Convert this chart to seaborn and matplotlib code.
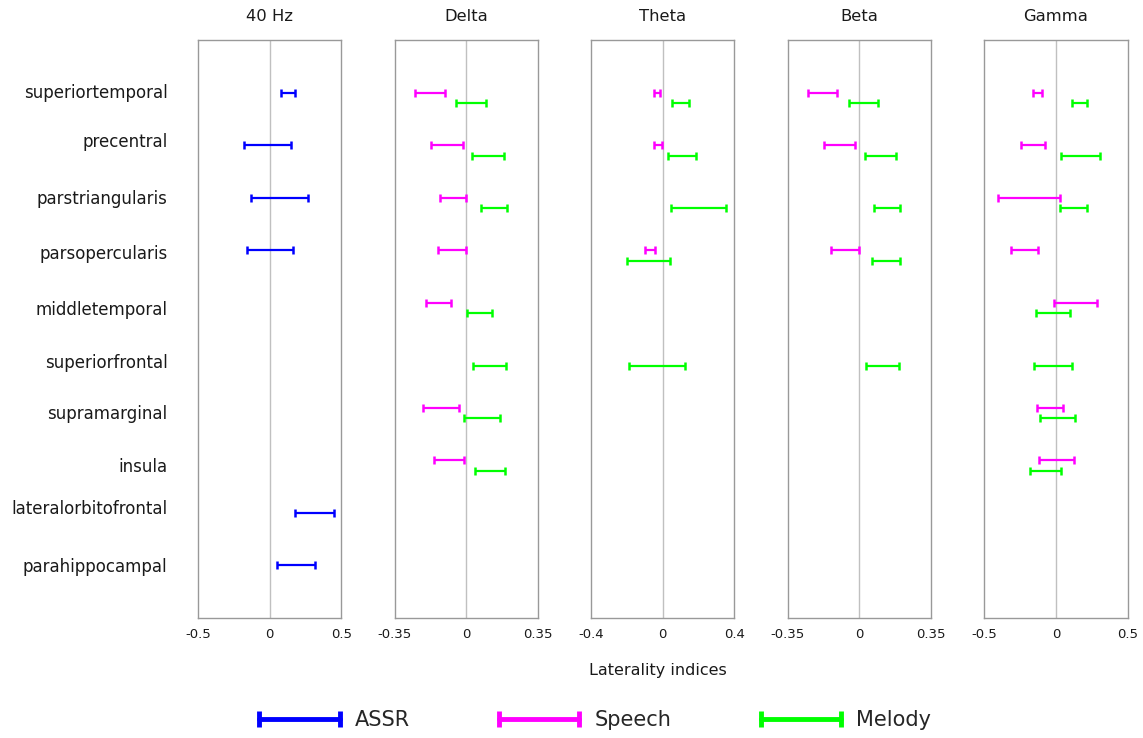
import numpy as np
import pandas as pd
import matplotlib
matplotlib.use("Agg")
import matplotlib.pyplot as plt
from matplotlib.lines import Line2D
import seaborn as sns

# Brain regions, top to bottom
regions = ["superiortemporal", "precentral", "parstriangularis", "parsopercularis",
           "middletemporal", "superiorfrontal", "supramarginal", "insula",
           "lateralorbitofrontal", "parahippocampal"]

bands = ["40 Hz", "Delta", "Theta", "Beta", "Gamma"]
band_limits = {"40 Hz": 0.5, "Delta": 0.35, "Theta": 0.4, "Beta": 0.35, "Gamma": 0.5}

# Confidence intervals of laterality indices: (region, low, high)
assr_40hz = [("superiortemporal", 0.08, 0.18), ("precentral", -0.18, 0.15),
             ("parstriangularis", -0.13, 0.27), ("parsopercularis", -0.16, 0.165),
             ("lateralorbitofrontal", 0.18, 0.45), ("parahippocampal", 0.05, 0.32)]

speech_delta = [("superiortemporal", -0.25, -0.105), ("precentral", -0.174, -0.018),
                ("parstriangularis", -0.129, 0.0), ("parsopercularis", -0.139, 0.0),
                ("middletemporal", -0.197, -0.073), ("supramarginal", -0.213, -0.036),
                ("insula", -0.157, -0.013)]
melody_delta = [("superiortemporal", -0.052, 0.096), ("precentral", 0.028, 0.183),
                ("parstriangularis", 0.072, 0.201), ("middletemporal", 0.002, 0.126),
                ("superiorfrontal", 0.033, 0.196), ("supramarginal", -0.011, 0.166),
                ("insula", 0.044, 0.188)]

speech_theta = [("superiortemporal", -0.047, -0.017), ("precentral", -0.05, -0.006),
                ("parsopercularis", -0.099, -0.045)]
melody_theta = [("superiortemporal", 0.054, 0.144), ("precentral", 0.032, 0.185),
                ("parstriangularis", 0.047, 0.352), ("parsopercularis", -0.198, 0.041),
                ("superiorfrontal", -0.189, 0.122)]

speech_beta = [("superiortemporal", -0.253, -0.108), ("precentral", -0.173, -0.021),
               ("parsopercularis", -0.14, 0.0)]
melody_beta = [("superiortemporal", -0.052, 0.093), ("precentral", 0.028, 0.18),
               ("parstriangularis", 0.07, 0.2), ("parsopercularis", 0.062, 0.2),
               ("superiorfrontal", 0.033, 0.194)]

speech_gamma = [("superiortemporal", -0.158, -0.095), ("precentral", -0.241, -0.077),
                ("parstriangularis", -0.405, 0.028), ("parsopercularis", -0.311, -0.123),
                ("middletemporal", -0.014, 0.286), ("supramarginal", -0.135, 0.051),
                ("insula", -0.119, 0.124)]
melody_gamma = [("superiortemporal", 0.114, 0.219), ("precentral", 0.037, 0.305),
                ("parstriangularis", 0.028, 0.219), ("middletemporal", -0.142, 0.096),
                ("superiorfrontal", -0.151, 0.112), ("supramarginal", -0.109, 0.133),
                ("insula", -0.184, 0.033)]

conditions = ["ASSR", "Speech", "Melody"]
colors = {"ASSR": "#0000ff", "Speech": "#ff00ff", "Melody": "#00ff00"}
row_offset = {"ASSR": 0.0, "Speech": 0.0, "Melody": 0.2}
# small vertical nudges of the region labels (in row units)
label_nudge = [-0.02, -0.1, -0.02, 0.04, 0.1, 0.11, 0.08, 0.08, -0.11, 0.0]

sources = [("40 Hz", "ASSR", assr_40hz),
           ("Delta", "Speech", speech_delta), ("Delta", "Melody", melody_delta),
           ("Theta", "Speech", speech_theta), ("Theta", "Melody", melody_theta),
           ("Beta", "Speech", speech_beta), ("Beta", "Melody", melody_beta),
           ("Gamma", "Speech", speech_gamma), ("Gamma", "Melody", melody_gamma)]

records = []
for band, cond, rows in sources:
    for region, lo, hi in rows:
        records.append({"band": band, "condition": cond, "region": region,
                        "low": lo, "high": hi})
df = pd.DataFrame(records)
df["row"] = df["region"].map({r: i for i, r in enumerate(regions)})
df["y"] = df["row"] + df["condition"].map(row_offset)
df["mid"] = (df["low"] + df["high"]) / 2
df["half"] = (df["high"] - df["low"]) / 2

sns.set_theme(style="white")
plt.rcParams["font.family"] = ["DejaVu Sans"]


def draw_intervals(data, **kwargs):
    ax = plt.gca()
    for cond, sub in data.groupby("condition"):
        ax.errorbar(sub["mid"], sub["y"], xerr=sub["half"], fmt="none",
                    ecolor=colors[cond], elinewidth=1.6, capsize=2.8,
                    capthick=1.8, zorder=3)


g = sns.FacetGrid(df, col="band", col_order=bands, sharex=False, sharey=True,
                  height=5.8, aspect=0.25, despine=False)
g.map_dataframe(draw_intervals)
g.figure.set_size_inches(11.43, 7.38)
g.figure.subplots_adjust(left=0.1732, right=0.9865, top=0.9458, bottom=0.1626,
                         wspace=0.372)

for band, ax in zip(bands, g.axes.flat):
    lim = band_limits[band]
    ax.set_xlim(-lim, lim)
    ax.set_xticks([-lim, 0, lim])
    ax.set_xticklabels([f"{-lim:g}", "0", f"{lim:g}"])
    ax.axvline(0, color="#c0c0c0", lw=1.0, zorder=1)
    ax.set_ylim(len(regions), -1)
    ax.set_title(band, fontsize=11.8, pad=14, color="#1a1a1a")
    ax.set_xlabel("")
    ax.set_ylabel("")
    ax.tick_params(axis="x", length=0, labelsize=9.5, pad=7, colors="#1a1a1a")
    ax.tick_params(axis="y", length=0)
    for sp in ax.spines.values():
        sp.set_color("#999999")
        sp.set_linewidth(1.0)
    ax.grid(False)

first = g.axes.flat[0]
first.set_yticks(np.arange(len(regions)) + np.array(label_nudge))
first.set_yticklabels(regions)
first.tick_params(axis="y", labelsize=12, pad=22, colors="#1a1a1a")
for ax in list(g.axes.flat)[1:]:
    ax.tick_params(axis="y", labelleft=False)

g.figure.text(0.5755, 1 - 670 / 738, "Laterality indices", ha="center", va="center",
              fontsize=11.5, color="#1a1a1a")

handles = [Line2D([], [], color=colors[c], lw=3.5, marker="|", markersize=11,
                  markeredgewidth=3.5) for c in conditions]
g.figure.legend(handles, conditions, loc="center", ncol=3, frameon=False,
                bbox_to_anchor=(0.518, 1 - 720 / 738), numpoints=2,
                handlelength=4.45, handletextpad=0.42, columnspacing=4.0,
                fontsize=15)

g.figure.savefig("out.png", dpi=100, facecolor="white")
